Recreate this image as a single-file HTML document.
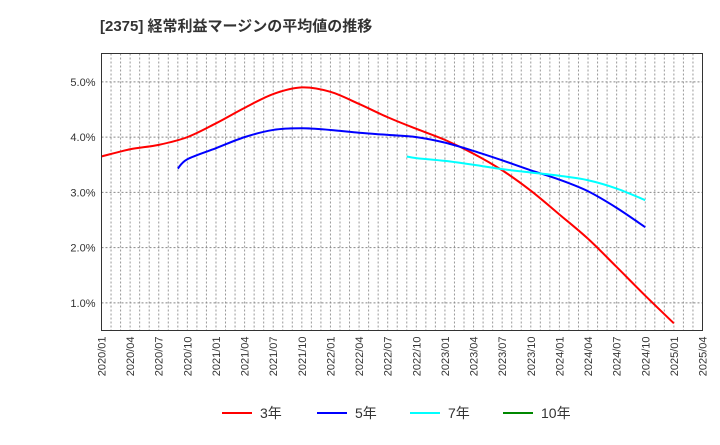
<!DOCTYPE html>
<html><head><meta charset="utf-8"><style>
body{margin:0;background:#fff;font-family:"Liberation Sans","Noto Sans CJK JP",sans-serif}
</style></head><body>
<svg id="c" width="720" height="440" xmlns="http://www.w3.org/2000/svg">
<text x="100" y="31" font-size="15" font-weight="bold" fill="#333">[2375]  経常利益マージンの平均値の推移</text>
<g id="grid"></g><g id="series"></g><g id="axes"></g>
<rect x="101.5" y="53.5" width="601" height="277" fill="none" stroke="#333"/>
<g font-size="14" fill="#333">
<g><line x1="222" y1="413" x2="252" y2="413" stroke="#f00" stroke-width="2"/><text x="260" y="418">3年</text></g>
<g><line x1="317" y1="413" x2="347" y2="413" stroke="#00f" stroke-width="2"/><text x="355" y="418">5年</text></g>
<g><line x1="410" y1="413" x2="440" y2="413" stroke="#0ff" stroke-width="2"/><text x="448" y="418">7年</text></g>
<g><line x1="503" y1="413" x2="533" y2="413" stroke="#080" stroke-width="2"/><text x="541" y="418">10年</text></g>
</g>
</svg>
<script>
const xLabels=["2020/01","2020/04","2020/07","2020/10","2021/01","2021/04","2021/07","2021/10","2022/01","2022/04","2022/07","2022/10","2023/01","2023/04","2023/07","2023/10","2024/01","2024/04","2024/07","2024/10","2025/01","2025/04"];
const yTicks=[1,2,3,4,5];
const s3Start="2020/01";
const s3=[3.65,3.78,3.86,4.0,4.25,4.53,4.78,4.9,4.82,4.6,4.36,4.15,3.95,3.7,3.4,3.03,2.6,2.16,1.65,1.13,0.63];
const s5Start="2020/09";
const s5=[3.43,3.6,3.8,4.0,4.13,4.16,4.13,4.08,4.04,4.0,3.9,3.75,3.58,3.4,3.23,3.02,2.72,2.37];
const s7Start="2022/09";
const s7=[3.65,3.62,3.57,3.5,3.42,3.36,3.3,3.22,3.07,2.86];
const NS="http://www.w3.org/2000/svg";
const L=101.5,R=702.5,T=53.5,B=330.5;
const xm=m=>L+(R-L)*m/63; // month index
const x=i=>xm(i*3);
const y=v=>B-(v-0.5)*55.25;
const mon=s=>{const [a,b]=s.split('/').map(Number);return (a-2020)*12+b-1;};
function mk(t,a,p){const e=document.createElementNS(NS,t);for(const k in a)e.setAttribute(k,a[k]);p.appendChild(e);return e;}
const g=document.getElementById('grid'),ax=document.getElementById('axes'),sg=document.getElementById('series');
for(let m=1;m<63;m++){const l=mk('line',{x1:xm(m),x2:xm(m),y1:T,y2:B,stroke:'#999','stroke-dasharray':'2,2'},g);

}
yTicks.forEach(v=>{const l=mk('line',{x1:L,x2:R,y1:y(v),y2:y(v),stroke:'#888','stroke-dasharray':'2,2'},g);


const t=mk('text',{x:L-6,y:y(v)+4,'text-anchor':'end','font-size':11,fill:'#333'},ax);t.textContent=v.toFixed(1)+'%';

});
xLabels.forEach((s,i)=>{const t=mk('text',{x:0,y:0,transform:`translate(${x(i)+4},${B+6}) rotate(-90)`,'text-anchor':'end','font-size':11,fill:'#333'},ax);t.textContent=s;

});
function path(start,data,col,name){const sm=mon(start);const q0=Math.ceil(sm/3);const p=[];
data.forEach((v,i)=>{const m=i===0?sm:(q0+i-(sm%3===0?0:1))*3;p.push([xm(m),y(v)]);});
let d=`M${p[0][0]},${p[0][1]}`;for(let i=0;i<p.length-1;i++){const p0=p[i-1]||p[i],p1=p[i],p2=p[i+1],p3=p[i+2]||p2;
d+=`C${p1[0]+(p2[0]-p0[0])/6},${p1[1]+(p2[1]-p0[1])/6} ${p2[0]-(p3[0]-p1[0])/6},${p2[1]-(p3[1]-p1[1])/6} ${p2[0]},${p2[1]}`;}
const e=mk('path',{d,fill:'none',stroke:col,'stroke-width':2},sg);

}
path(s3Start,s3,'#f00','line-3y');path(s5Start,s5,'#00f','line-5y');path(s7Start,s7,'#0ff','line-7y');
</script>
</body></html>
